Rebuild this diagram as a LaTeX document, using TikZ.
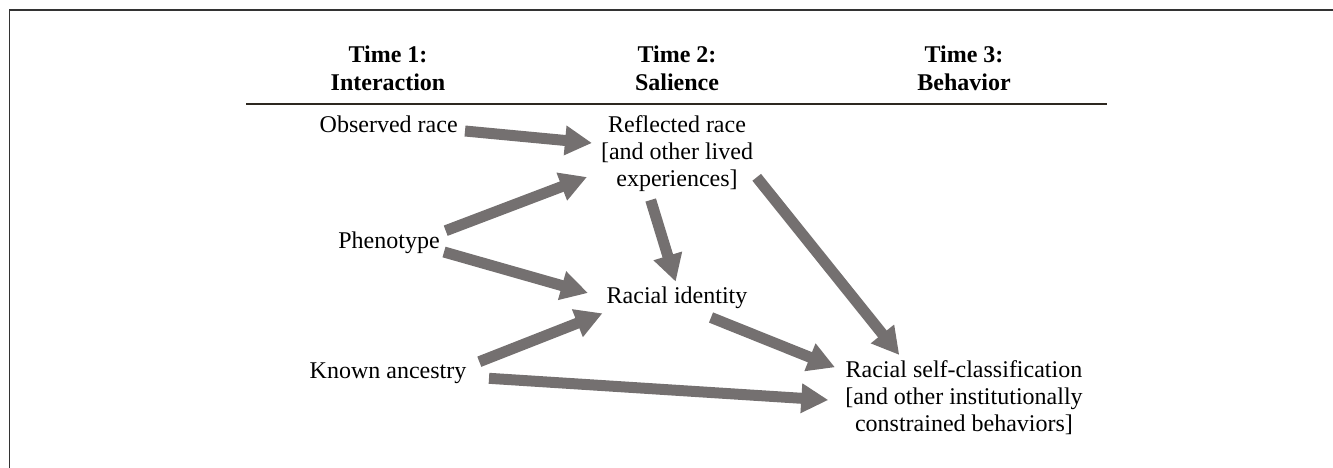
\documentclass[tikz,border=0pt]{standalone}
\usepackage{fontspec}
\setmainfont{Liberation Serif}
\usetikzlibrary{arrows.meta}
\definecolor{arrowgray}{RGB}{116,112,112}
\definecolor{rulebrown}{RGB}{45,40,32}
\tikzset{
  lbl/.style={inner sep=0pt,anchor=base,align=center,font=\fontsize{12}{13.7}\selectfont},
  hdr/.style={lbl,font=\fontsize{12}{13.7}\selectfont\bfseries},
  fatarrow/.style={draw=arrowgray,line width=5.5pt,-{Triangle[length=13.5pt,width=14pt]},arrowgray}
}

\begin{document}
\begin{tikzpicture}[x=0.5pt,y=-0.5pt]
        \useasboundingbox (0,0) rectangle (1333,467);
        \draw[line width=0.75pt,black!80] (9.5,480) -- (9.5,10) -- (1345,10);
        \node[hdr] (time1) at (388,90) {Time 1:\\Interaction};
        \node[hdr] (time2) at (677,90) {Time 2:\\Salience};
        \node[hdr] (time3) at (964,90) {Time 3:\\Behavior};
        \draw[line width=1pt,rulebrown] (246,104) -- (1107,104);
        \node[lbl] (observed) at (388.7,132) {Observed race};
        \node[lbl] (phenotype) at (389,248) {Phenotype};
        \node[lbl] (ancestry) at (388,378) {Known ancestry};
        \node[lbl] (reflected) at (677,186.8) {Reflected race\\{}[and other lived\\experiences]};
        \node[lbl] (identity) at (677,303) {Racial identity};
        \node[lbl] (selfclass) at (964,431.8) {Racial self-classification\\{}[and other institutionally\\constrained behaviors]};
        \draw[fatarrow] ([shift={(76.3,-1)}]observed.base) -- ([shift={(-85,-43.8)}]reflected.base);
        \draw[fatarrow] ([shift={(56.7,-17.3)}]phenotype.base) -- ([shift={(-90,-9.8)}]reflected.base);
        \draw[fatarrow] ([shift={(55,4)}]phenotype.base) -- ([shift={(-89,-10)}]identity.base);
        \draw[fatarrow] ([shift={(91.3,-16.3)}]ancestry.base) -- ([shift={(-74.5,10.3)}]identity.base);
        \draw[fatarrow] ([shift={(101,0.3)}]ancestry.base) -- ([shift={(-135.7,-31.8)}]selfclass.base);
        \draw[fatarrow] ([shift={(-26.3,13.2)}]reflected.base) -- ([shift={(-1.3,-21.3)}]identity.base);
        \draw[fatarrow] ([shift={(34,14.5)}]identity.base) -- ([shift={(-129,-64.5)}]selfclass.base);
        \draw[fatarrow] ([shift={(79.7,-9.5)}]reflected.base) -- ([shift={(-64.7,-76.8)}]selfclass.base);
    \end{tikzpicture}
\end{document}
